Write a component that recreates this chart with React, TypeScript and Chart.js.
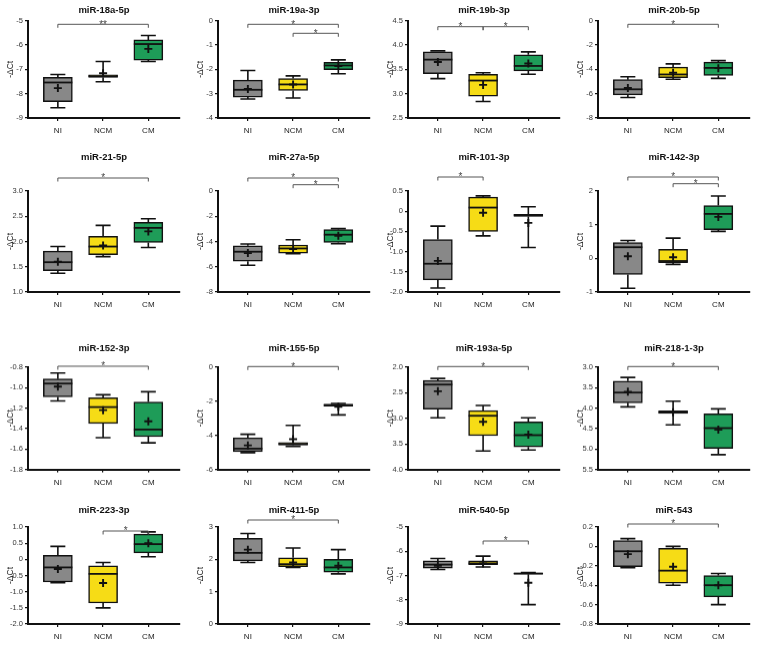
import React, { useEffect, useRef } from 'react';
import { Chart, registerables } from 'chart.js';

Chart.register(...registerables);

// ---------------- DATA ----------------
const GROUPS = ['NI', 'NCM', 'CM'];

const TITLES = [
  'miR-18a-5p', 'miR-19a-3p', 'miR-19b-3p', 'miR-20b-5p',
  'miR-21-5p', 'miR-27a-5p', 'miR-101-3p', 'miR-142-3p',
  'miR-152-3p', 'miR-155-5p', 'miR-193a-5p', 'miR-218-1-3p',
  'miR-223-3p', 'miR-411-5p', 'miR-540-5p', 'miR-543',
];

// per panel: [NI, NCM, CM]
const WHISKER_LOW = [
  [-8.58, -7.51, -6.68], [-3.22, -3.18, -2.18], [3.31, 2.84, 3.40], [-6.31, -4.82, -4.74],
  [1.37, 1.70, 1.88], [-5.88, -4.97, -4.18], [-1.90, -0.61, -0.90], [-0.89, -0.18, 0.80],
  [-1.13, -1.49, -1.54], [-5.02, -4.65, -2.80], [2.22, 2.75, 2.99], [3.25, 3.83, 4.02],
  [-0.72, -1.50, 0.08], [1.90, 1.75, 1.55], [-6.75, -6.65, -8.20], [-0.22, -0.40, -0.60],
];
const BOX_LOW = [
  [-8.33, -7.33, -6.62], [-3.14, -2.87, -2.01], [3.41, 2.95, 3.47], [-6.10, -4.69, -4.50],
  [1.42, 1.74, 1.98], [-5.56, -4.92, -4.07], [-1.70, -0.50, -0.13], [-0.48, -0.13, 0.85],
  [-1.09, -1.35, -1.48], [-4.96, -4.58, -2.28], [2.26, 2.85, 3.07], [3.34, 4.07, 4.14],
  [-0.70, -1.35, 0.20], [1.95, 1.77, 1.60], [-6.70, -6.55, -6.95], [-0.21, -0.38, -0.52],
];
const MEDIAN = [
  [-7.54, -7.28, -5.96], [-2.84, -2.62, -1.84], [3.70, 3.27, 3.57], [-5.64, -4.42, -3.88],
  [1.59, 1.90, 2.27], [-4.81, -4.55, -3.46], [-1.30, 0.09, -0.10], [0.33, -0.08, 1.32],
  [-0.96, -1.19, -1.41], [-4.78, -4.50, -2.22], [2.34, 2.95, 3.33], [3.62, 4.10, 4.49],
  [-0.25, -0.45, 0.47], [2.20, 1.85, 1.75], [-6.55, -6.50, -6.92], [-0.05, -0.25, -0.40],
];
const BOX_HIGH = [
  [-7.33, -7.23, -5.79], [-2.44, -2.38, -1.71], [3.86, 3.40, 3.80], [-4.85, -3.82, -3.41],
  [1.81, 2.10, 2.38], [-4.34, -4.28, -3.06], [-0.70, 0.35, -0.08], [0.47, 0.27, 1.57],
  [-0.915, -1.10, -1.14], [-4.15, -4.42, -2.17], [2.82, 3.34, 3.56], [3.87, 4.13, 4.99],
  [0.12, -0.20, 0.78], [2.65, 2.05, 2.00], [-6.40, -6.40, -6.90], [0.06, -0.02, -0.30],
];
const WHISKER_HIGH = [
  [-7.21, -6.68, -5.61], [-2.05, -2.27, -1.61], [3.88, 3.43, 3.86], [-4.61, -3.55, -3.28],
  [1.90, 2.32, 2.45], [-4.20, -3.86, -2.98], [-0.37, 0.38, 0.11], [0.53, 0.60, 1.85],
  [-0.856, -1.07, -1.04], [-3.94, -3.41, -2.13], [2.99, 3.64, 3.62], [3.97, 4.41, 5.14],
  [0.40, -0.10, 0.85], [2.80, 2.35, 2.30], [-6.30, -6.20, -6.88], [0.08, 0.00, -0.28],
];
const MEAN = [
  [-7.77, -7.16, -6.16], [-2.81, -2.62, -1.86], [3.65, 3.18, 3.62], [-5.53, -4.28, -3.90],
  [1.60, 1.92, 2.20], [-4.92, -4.60, -3.54], [-1.23, -0.04, -0.29], [0.06, 0.03, 1.23],
  [-0.99, -1.22, -1.33], [-4.59, -4.23, -2.32], [2.47, 3.07, 3.32], [3.60, 4.10, 4.53],
  [-0.30, -0.73, 0.50], [2.30, 1.90, 1.80], [-6.60, -6.50, -7.30], [-0.08, -0.21, -0.40],
];

const Y_MIN = [-9, -4, 2.5, -8, 1.0, -8, -2.0, -1, -1.8, -6, 2.0, 3.0, -2.0, 0, -9, -0.8];
const Y_MAX = [-5, 0, 4.5, 0, 3.0, 0, 0.5, 2, -0.8, 0, 4.0, 5.5, 1.0, 3, -5, 0.2];
const Y_STEP = [1, 1, 0.5, 2, 0.5, 2, 0.5, 1, 0.2, 2, 0.5, 0.5, 0.5, 1, 1, 0.2];
const Y_DECIMALS = [0, 0, 1, 0, 1, 0, 1, 0, 1, 0, 1, 1, 1, 0, 0, 1];
const Y_REVERSED = [false, false, false, false, false, false, false, false, false, false, true, true, false, false, false, false];
const Y_TITLE = '-ΔCt';

// significance comparisons: [group from, group to, label]
const SIGNIFICANCE: [number, number, string][][] = [
  [[0, 2, '**']], [[0, 2, '*'], [1, 2, '*']], [[0, 1, '*'], [1, 2, '*']], [[0, 2, '*']],
  [[0, 2, '*']], [[0, 2, '*'], [1, 2, '*']], [[0, 1, '*']], [[0, 2, '*'], [1, 2, '*']],
  [[0, 2, '*']], [[0, 2, '*']], [[0, 2, '*']], [[0, 2, '*']],
  [[1, 2, '*']], [[0, 2, '*']], [[1, 2, '*']], [[0, 2, '*']],
];

// ---------------- LAYOUT / STYLE ----------------
const COLORS = ['#888888', '#f6dc16', '#1e9c58'];
const FONT = "'Liberation Sans', Arial, sans-serif";
const PANEL_W = 190;
// absolute rows: title centre, chart top, x-axis line
const ROW_TITLE = [10, 157, 348, 510];
const ROW_TOP = [20.7, 191, 367, 527];
const ROW_AXIS = [118, 292, 468.5, 624];
// bracket line offsets (px) from chart-area top
const BRACKET_OFFSETS = [
  [3.6], [3.6, 12.6], [6, 6], [3.6],
  [-13], [-13, -6.3], [-14], [-14, -7.3],
  [-1], [-0.7], [-0.7], [-0.7],
  [4], [-7], [14], [-3],
];

function fmt(v: number, d: number) {
  if (Math.abs(v) < 1e-9) return '0';
  return v.toFixed(d);
}

function Panel({ index }: { index: number }) {
  const ref = useRef<HTMLCanvasElement>(null);
  const row = Math.floor(index / 4);
  const col = index % 4;
  const canvasTop = ROW_TITLE[row] - 10;
  const canvasH = ROW_AXIS[row] + 22 - canvasTop;

  useEffect(() => {
    const i = index;
    const titleSize = 9.5;
    const titlePadTop = 4.3;
    const titlePadBottom = ROW_TOP[row] - canvasTop - titlePadTop - titleSize * 1.2;

    const boxPlugin = {
      id: 'boxWhiskers' + i,
      afterDatasetsDraw(chart: any) {
        const { ctx } = chart;
        const xs = chart.scales.x;
        const ys = chart.scales.y;
        ctx.save();
        ctx.strokeStyle = '#111';
        GROUPS.forEach((_, g) => {
          const x = xs.getPixelForValue(g);
          const yBL = ys.getPixelForValue(BOX_LOW[i][g]);
          const yBH = ys.getPixelForValue(BOX_HIGH[i][g]);
          const yWL = ys.getPixelForValue(WHISKER_LOW[i][g]);
          const yWH = ys.getPixelForValue(WHISKER_HIGH[i][g]);
          const yMed = ys.getPixelForValue(MEDIAN[i][g]);
          const yMean = ys.getPixelForValue(MEAN[i][g]);
          const cap = 7.5;
          const half = 14.5;
          ctx.lineWidth = 1.6;
          ctx.beginPath();
          ctx.moveTo(x, yBH); ctx.lineTo(x, yWH);
          ctx.moveTo(x - cap, yWH); ctx.lineTo(x + cap, yWH);
          ctx.moveTo(x, yBL); ctx.lineTo(x, yWL);
          ctx.moveTo(x - cap, yWL); ctx.lineTo(x + cap, yWL);
          ctx.stroke();
          ctx.lineWidth = 1.8;
          ctx.beginPath();
          ctx.moveTo(x - half, yMed); ctx.lineTo(x + half, yMed);
          ctx.stroke();
          ctx.lineWidth = 1.9;
          ctx.beginPath();
          ctx.moveTo(x - 4, yMean); ctx.lineTo(x + 4, yMean);
          ctx.moveTo(x, yMean - 4); ctx.lineTo(x, yMean + 4);
          ctx.stroke();
        });
        // significance brackets
        const top = chart.chartArea.top;
        ctx.strokeStyle = '#555';
        ctx.fillStyle = '#444';
        ctx.lineWidth = 1;
        ctx.font = `10px ${FONT}`;
        ctx.textAlign = 'center';
        ctx.textBaseline = 'alphabetic';
        SIGNIFICANCE[i].forEach(([a, b, label], k) => {
          const y = top + BRACKET_OFFSETS[i][k];
          const xa = xs.getPixelForValue(a);
          const xb = xs.getPixelForValue(b);
          ctx.beginPath();
          ctx.moveTo(xa, y + 3.5); ctx.lineTo(xa, y); ctx.lineTo(xb, y); ctx.lineTo(xb, y + 3.5);
          ctx.stroke();
          ctx.fillText(label, (xa + xb) / 2, y + 3.3);
        });
        ctx.restore();
      },
    };

    const chart = new Chart(ref.current as HTMLCanvasElement, {
      type: 'bar',
      data: {
        datasets: [
          {
            data: GROUPS.map((_, g) => ({ x: g, y: [BOX_LOW[i][g], BOX_HIGH[i][g]] })) as any,
            backgroundColor: COLORS,
            borderColor: '#111',
            borderWidth: 1.5,
            borderSkipped: false,
            barThickness: 29,
          },
        ],
      },
      options: {
        animation: false,
        responsive: true,
        maintainAspectRatio: false,
        layout: { padding: { top: 0, left: 0, right: 10, bottom: 0 } },
        plugins: {
          legend: { display: false },
          tooltip: { enabled: false },
          title: {
            display: true,
            text: TITLES[i],
            fullSize: false,
            color: '#111',
            font: { family: FONT, size: titleSize, weight: 'bold', lineHeight: 1.2 },
            padding: { top: titlePadTop, bottom: titlePadBottom },
          },
        },
        scales: {
          x: {
            type: 'linear',
            min: -0.66,
            max: 2.7,
            offset: false,
            afterBuildTicks: (axis: any) => {
              axis.ticks = GROUPS.map((_, g) => ({ value: g }));
            },
            afterFit: (scale: any) => {
              scale.height = 22;
            },
            ticks: {
              callback: (v: any) => GROUPS[Math.round(Number(v))] ?? '',
              autoSkip: false,
              maxRotation: 0,
              padding: 5,
              color: '#222',
              font: { family: FONT, size: 8 },
            },
            grid: { display: true, drawOnChartArea: false, drawTicks: true, tickLength: 3, color: '#111', lineWidth: 1.2, offset: false },
            border: { display: true, color: '#111', width: 2 },
          },
          y: {
            type: 'linear',
            min: Y_MIN[i],
            max: Y_MAX[i],
            reverse: Y_REVERSED[i],
            beginAtZero: false,
            afterFit: (scale: any) => {
              scale.width = 28;
            },
            ticks: {
              stepSize: Y_STEP[i],
              callback: (v: any) => fmt(Number(v), Y_DECIMALS[i]),
              padding: 2,
              color: '#333',
              font: { family: FONT, size: 7.5 },
            },
            title: {
              display: true,
              text: Y_TITLE,
              color: '#222',
              font: { family: FONT, size: 8.5 },
              padding: { top: 6, bottom: 0 },
            },
            grid: { display: true, drawOnChartArea: false, drawTicks: true, tickLength: 3, color: '#111', lineWidth: 1.2 },
            border: { display: true, color: '#111', width: 2 },
          },
        },
      } as any,
      plugins: [boxPlugin as any],
    });
    return () => chart.destroy();
  }, [index]);

  return (
    <div
      style={{
        position: 'absolute',
        left: col * PANEL_W,
        top: canvasTop,
        width: PANEL_W,
        height: canvasH,
      }}
    >
      <canvas ref={ref} />
    </div>
  );
}

export default function App() {
  return (
    <div style={{ position: 'fixed', left: 0, top: 0, width: 760, height: 667, background: '#fff', overflow: 'hidden' }}>
      {TITLES.map((_, i) => (
        <Panel key={i} index={i} />
      ))}
    </div>
  );
}
